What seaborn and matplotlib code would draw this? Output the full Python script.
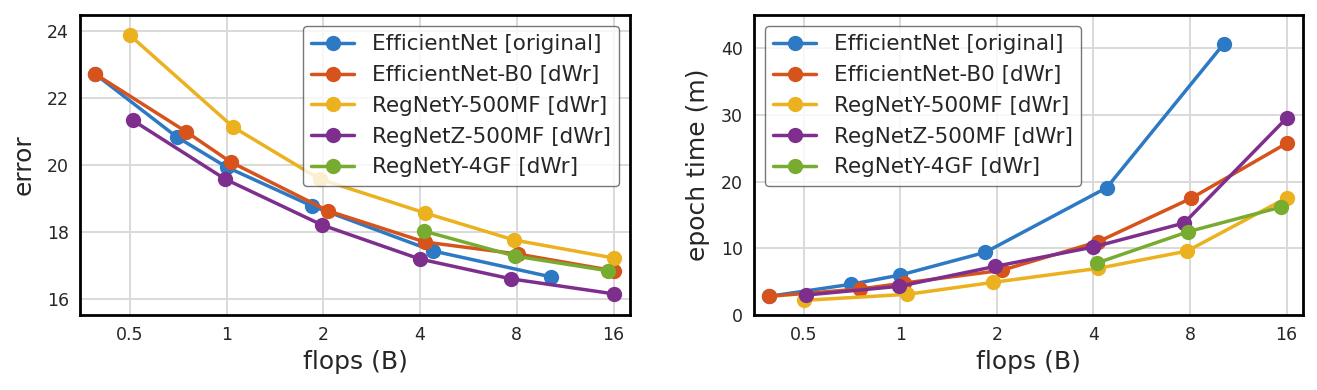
import matplotlib
matplotlib.use('Agg')
import matplotlib.pyplot as plt
import seaborn as sns
import pandas as pd

# Series names and colours
models = ['EfficientNet [original]', 'EfficientNet-B0 [dWr]', 'RegNetY-500MF [dWr]',
          'RegNetZ-500MF [dWr]', 'RegNetY-4GF [dWr]']
colors = ['#2d79c3', '#d6531c', '#ebb11e', '#7e2f8e', '#77ac30']

# flops (B) per model
flops_effnet = [0.39, 0.70, 1.0, 1.84, 4.4, 10.2]
flops_b0 = [0.39, 0.75, 1.03, 2.07, 4.14, 8.06, 16.05]
flops_y500 = [0.5, 1.05, 1.95, 4.14, 7.84, 16.05]
flops_z500 = [0.51, 0.99, 1.98, 4.0, 7.67, 16.05]
flops_y4gf = [4.1, 7.9, 15.4]

# error per model
err_effnet = [22.72, 20.84, 19.94, 18.78, 17.43, 16.66]
err_b0 = [22.72, 20.99, 20.09, 18.63, 17.70, 17.34, 16.84]
err_y500 = [23.88, 21.13, 19.58, 18.57, 17.76, 17.22]
err_z500 = [21.34, 19.58, 18.21, 17.19, 16.60, 16.15]
err_y4gf = [18.03, 17.28, 16.84]

# epoch time (m) per model
time_effnet = [2.8, 4.6, 6.0, 9.4, 19.1, 40.7]
time_b0 = [2.8, 3.9, 4.8, 6.7, 11.0, 17.5, 25.8]
time_y500 = [2.2, 3.1, 4.9, 7.0, 9.6, 17.6]
time_z500 = [3.0, 4.3, 7.3, 10.2, 13.8, 29.6]
time_y4gf = [7.8, 12.5, 16.2]

all_flops = [flops_effnet, flops_b0, flops_y500, flops_z500, flops_y4gf]
all_err = [err_effnet, err_b0, err_y500, err_z500, err_y4gf]
all_time = [time_effnet, time_b0, time_y500, time_z500, time_y4gf]

xticks = [0.5, 1, 2, 4, 8, 16]
xticklabels = ['0.5', '1', '2', '4', '8', '16']

rows = []
for name, fl, er, tm in zip(models, all_flops, all_err, all_time):
    for f, e, t in zip(fl, er, tm):
        rows.append({'model': name, 'flops': f, 'error': e, 'time': t})
df = pd.DataFrame(rows)

sns.set_style('whitegrid', {'axes.edgecolor': 'black', 'grid.color': '#d9d9d9'})
plt.rcParams['font.family'] = ['DejaVu Sans']

fig = plt.figure(figsize=(13.17, 3.9), dpi=100)
ax1 = fig.add_axes([0.0607, 0.1923, 0.4177, 0.7692])
ax2 = fig.add_axes([0.5725, 0.1923, 0.4169, 0.7692])

for ax, col, ylabel in [(ax1, 'error', 'error'), (ax2, 'time', 'epoch time (m)')]:
    sns.lineplot(data=df, x='flops', y=col, hue='model', hue_order=models,
                 palette=colors, marker='o', markersize=11, markeredgewidth=0,
                 linewidth=2.5, sort=False, estimator=None, ax=ax)
    ax.set_xscale('log', base=2)
    ax.set_xlim(0.35, 18.0)
    ax.set_xticks(xticks)
    ax.set_xticklabels(xticklabels)
    ax.minorticks_off()
    ax.tick_params(labelsize=12.5, length=0, pad=8)
    ax.set_xlabel('flops (B)', fontsize=18)
    ax.set_ylabel(ylabel, fontsize=18, labelpad=8)
    for s in ax.spines.values():
        s.set_color('black')
        s.set_linewidth(2)
    ax.grid(True, color='#d9d9d9', linewidth=1.4)

ax1.set_ylim(15.52, 24.48)
ax1.set_yticks([16, 18, 20, 22, 24])
ax2.set_ylim(0, 45)
ax2.set_yticks([0, 10, 20, 30, 40])

ax1.legend(loc='upper right', fontsize=15.5, frameon=True, edgecolor='#555555',
           framealpha=0.8, handlelength=2.0, borderaxespad=0.5, labelspacing=0.5)
ax2.legend(loc='upper left', fontsize=15.5, frameon=True, edgecolor='#555555',
           framealpha=0.8, handlelength=2.0, borderaxespad=0.5, labelspacing=0.5)

fig.savefig('out.png', dpi=100)
